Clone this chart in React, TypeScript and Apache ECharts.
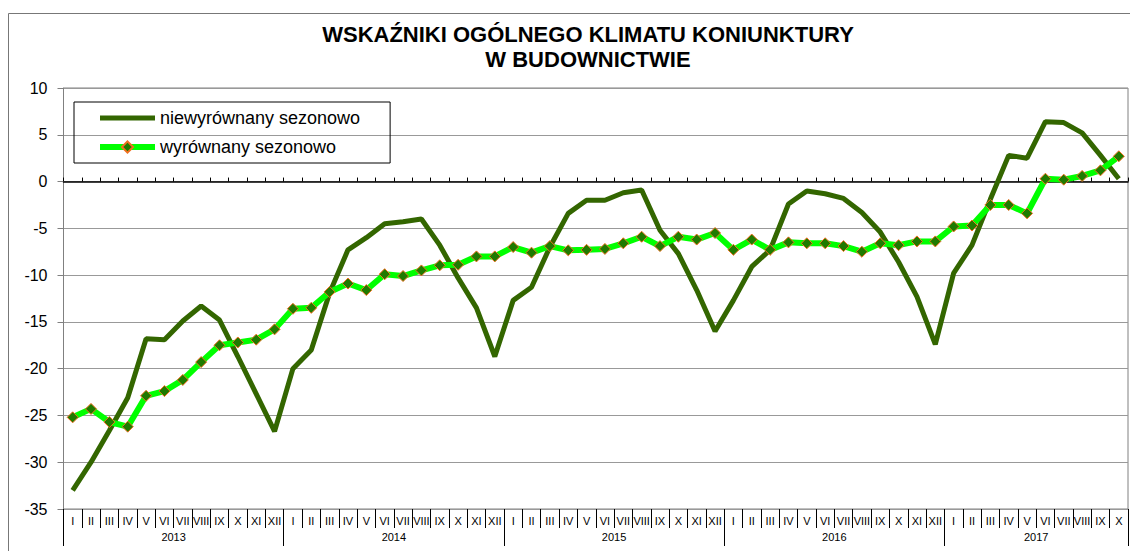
import React, { useEffect, useRef } from 'react';
import * as echarts from 'echarts';

const monthNames = ['I', 'II', 'III', 'IV', 'V', 'VI', 'VII', 'VIII', 'IX', 'X', 'XI', 'XII'];
const years = ['2013', '2014', '2015', '2016', '2017'];
const months: string[] = [
  ...monthNames, ...monthNames, ...monthNames, ...monthNames,
  'I', 'II', 'III', 'IV', 'V', 'VI', 'VII', 'VIII', 'IX', 'X',
];
const yearLabelPos = [6, 18, 30, 42, 53];
const yearBoundaries = [0, 12, 24, 36, 48, 58];

const unadjusted = [
  -33.0, -30.0, -26.6, -23.1, -16.8, -16.9, -14.9, -13.3, -14.8, -18.7, -22.7, -26.7,
  -20.0, -18.0, -11.9, -7.3, -6.0, -4.5, -4.3, -4.0, -6.8, -10.3, -13.5, -18.7,
  -12.7, -11.3, -7.0, -3.4, -2.0, -2.0, -1.2, -0.9, -5.2, -7.7, -11.6, -16.0,
  -12.7, -9.1, -7.3, -2.4, -1.0, -1.3, -1.8, -3.3, -5.4, -8.6, -12.3, -17.4,
  -9.8, -6.8, -1.9, 2.8, 2.5, 6.4, 6.3, 5.2, 2.8, 0.3,
];
const adjusted = [
  -25.2, -24.3, -25.7, -26.2, -22.9, -22.4, -21.2, -19.3, -17.5, -17.2, -16.9, -15.8,
  -13.6, -13.5, -11.8, -10.9, -11.6, -9.9, -10.1, -9.5, -8.95, -8.9, -8.0, -8.0,
  -7.0, -7.6, -6.9, -7.35, -7.3, -7.2, -6.6, -5.9, -6.9, -5.9, -6.2, -5.5,
  -7.3, -6.2, -7.3, -6.5, -6.6, -6.6, -6.9, -7.5, -6.6, -6.8, -6.4, -6.4,
  -4.8, -4.7, -2.5, -2.5, -3.4, 0.3, 0.2, 0.6, 1.2, 2.7,
];

const titleText = 'WSKAŹNIKI OGÓLNEGO KLIMATU KONIUNKTURY\nW BUDOWNICTWIE';
const seriesNames = ['niewyrównany sezonowo', 'wyrównany sezonowo'];
const FONT = '"Liberation Sans", Arial, sans-serif';

export default function App() {
  const ref = useRef<HTMLDivElement>(null);
  useEffect(() => {
    document.body.style.margin = '0';
    if (!ref.current) return;
    const chart = echarts.init(ref.current, null, { renderer: 'svg' });
    chart.setOption({
      animation: false,
      backgroundColor: '#fff',
      textStyle: { fontFamily: FONT },
      title: {
        text: titleText,
        left: 583,
        top: 17,
        textAlign: 'center',
        textStyle: { fontSize: 22, fontWeight: 'bold', color: '#000', fontFamily: FONT, lineHeight: 25 },
      },
      graphic: [
        {
          type: 'rect',
          shape: { x: 8.5, y: 13.5, width: 1140, height: 560 },
          style: { fill: 'none', stroke: '#777', lineWidth: 1 },
          silent: true,
          z: -1,
        },
      ],
      legend: {
        orient: 'vertical',
        left: 74,
        top: 102,
        padding: [6, 30, 6, 23],
        itemWidth: 55,
        itemHeight: 14,
        itemGap: 9,
        borderColor: '#000',
        borderWidth: 1,
        textStyle: { fontSize: 18, color: '#000', fontFamily: FONT, lineHeight: 20 },
        data: [
          { name: seriesNames[0], itemStyle: { opacity: 0 }, lineStyle: { width: 5, color: '#336600' } },
          { name: seriesNames[1], lineStyle: { width: 6, color: '#00FF00' } },
        ],
      },
      grid: {
        left: 63.5,
        top: 88,
        width: 1064.5,
        height: 421,
        show: true,
        borderColor: '#808080',
        borderWidth: 1,
        containLabel: false,
      },
      xAxis: [
        {
          type: 'category',
          data: months,
          position: 'bottom',
          axisLine: { show: true, onZero: true, lineStyle: { color: '#000', width: 1.5 } },
          axisTick: { show: true, inside: true, length: 4, interval: 0, lineStyle: { color: '#000' } },
          axisLabel: { show: false },
          splitLine: { show: false },
        },
        {
          type: 'category',
          data: months,
          position: 'bottom',
          axisLine: { show: false, onZero: false },
          axisTick: { show: true, inside: false, length: 19, interval: 0, lineStyle: { color: '#000' } },
          axisLabel: { show: true, interval: 0, fontSize: 11, color: '#000', margin: 6, hideOverlap: false },
          splitLine: { show: false },
        },
        {
          type: 'value',
          min: 0,
          max: 58,
          position: 'bottom',
          axisLine: { show: false, onZero: false },
          axisTick: { show: true, inside: false, length: 37, customValues: yearBoundaries, lineStyle: { color: '#000' } },
          axisLabel: {
            show: true,
            customValues: yearLabelPos,
            fontSize: 11,
            color: '#000',
            margin: 22,
            formatter: (v: number) => years[yearLabelPos.indexOf(v)] ?? '',
          },
          splitLine: { show: false },
        },
      ],
      yAxis: {
        type: 'value',
        min: -35,
        max: 10,
        interval: 5,
        axisLine: { show: true, onZero: false, lineStyle: { color: '#808080' } },
        axisTick: { show: true, inside: false, length: 6, lineStyle: { color: '#808080' } },
        axisLabel: { fontSize: 16, color: '#000', margin: 16 },
        splitLine: { show: true, lineStyle: { color: '#999', width: 1 } },
      },
      series: [
        {
          name: seriesNames[0],
          type: 'line',
          xAxisIndex: 0,
          data: unadjusted,
          symbol: 'none',
          lineStyle: { color: '#336600', width: 5 },
          itemStyle: { color: '#336600' },
          z: 2,
        },
        {
          name: seriesNames[1],
          type: 'line',
          xAxisIndex: 0,
          data: adjusted,
          symbol: 'diamond',
          symbolSize: 11,
          showAllSymbol: true,
          lineStyle: { color: '#00FF00', width: 6 },
          itemStyle: { color: '#1F7A00', borderColor: '#F07020', borderWidth: 1 },
          z: 3,
        },
      ],
    });
    return () => chart.dispose();
  }, []);
  return <div ref={ref} style={{ width: 1130, height: 551 }} />;
}
